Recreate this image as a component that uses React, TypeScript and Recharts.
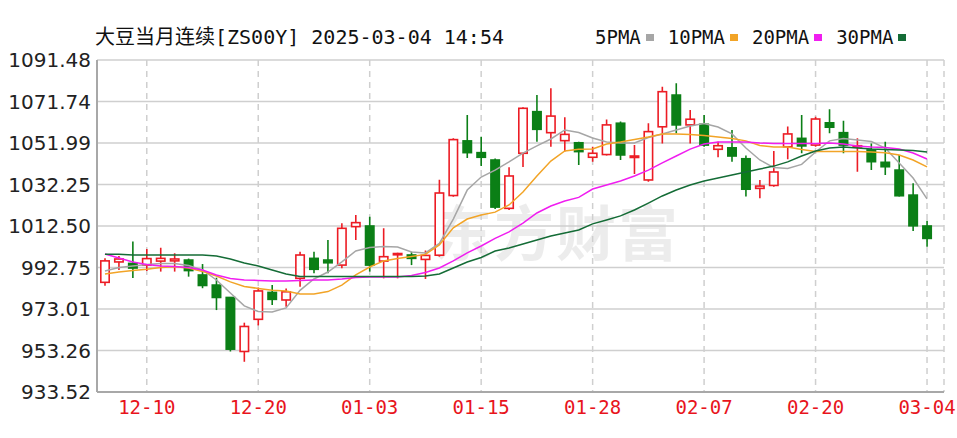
import React from 'react'
import { ComposedChart, Bar, Line, XAxis, YAxis, CartesianGrid } from 'recharts'

// 大豆当月连续 日K + 均线
const dates = [
  '12-05', '12-06', '12-09', '12-10', '12-11', '12-12', '12-13', '12-16', '12-17', '12-18',
  '12-19', '12-20', '12-23', '12-24', '12-26', '12-27', '12-30', '12-31', '01-02', '01-03',
  '01-06', '01-07', '01-08', '01-09', '01-10', '01-13', '01-14', '01-15', '01-16', '01-17',
  '01-21', '01-22', '01-23', '01-24', '01-27', '01-28', '01-29', '01-30', '01-31', '02-03',
  '02-04', '02-05', '02-06', '02-07', '02-10', '02-11', '02-12', '02-13', '02-14', '02-18',
  '02-19', '02-20', '02-21', '02-24', '02-25', '02-26', '02-27', '02-28', '03-03', '03-04',
]

const opens = [
  985.7, 995.4, 994.7, 993.9, 995.8, 995.9, 996.3, 989.2, 984.4, 978.5,
  952.8, 968.1, 980.9, 977.3, 987.6, 997.1, 996.3, 993.9, 1012.2, 1012.5,
  995.8, 998.8, 998.7, 996.6, 998.6, 1027.0, 1053.0, 1047.4, 1043.9, 1020.9,
  1047.1, 1066.9, 1056.9, 1053.1, 1052.1, 1045.2, 1046.5, 1061.4, 1045.1, 1034.4,
  1059.7, 1074.8, 1060.6, 1060.9, 1049.0, 1049.7, 1044.5, 1030.4, 1031.8, 1050.2,
  1054.2, 1051.0, 1061.6, 1056.9, 1050.1, 1048.7, 1042.8, 1039.1, 1027.2, 1012.5,
]
const highs = [
  997.1, 998.2, 1005.1, 1001.5, 1002.2, 999.5, 997.0, 994.4, 987.9, 978.6,
  966.5, 983.2, 984.4, 982.8, 1000.3, 1000.3, 1005.8, 1013.8, 1017.7, 1016.9,
  1011.4, 999.8, 1000.3, 1000.8, 1034.5, 1054.2, 1065.3, 1055.0, 1044.6, 1040.4,
  1069.0, 1074.8, 1078.0, 1064.2, 1052.6, 1050.2, 1063.2, 1062.2, 1051.0, 1061.4,
  1078.8, 1080.4, 1067.7, 1065.3, 1052.6, 1058.2, 1046.0, 1034.4, 1048.2, 1059.8,
  1065.3, 1064.5, 1068.0, 1062.6, 1054.2, 1051.8, 1052.6, 1046.3, 1032.8, 1015.0,
]
const lows = [
  984.1, 991.6, 987.7, 991.1, 990.8, 990.8, 988.4, 982.9, 972.5, 952.8,
  947.9, 965.2, 974.9, 974.1, 983.6, 990.0, 990.0, 992.4, 1005.8, 990.8,
  987.6, 987.6, 993.9, 987.3, 997.9, 1026.4, 1044.8, 1041.0, 1020.6, 1020.1,
  1040.6, 1052.6, 1050.2, 1047.9, 1041.5, 1043.1, 1046.0, 1043.9, 1037.2, 1033.6,
  1051.8, 1056.6, 1051.8, 1050.2, 1045.2, 1043.1, 1026.5, 1025.7, 1031.2, 1044.2,
  1047.1, 1050.2, 1056.6, 1047.1, 1038.3, 1039.1, 1036.8, 1026.5, 1010.1, 1002.6,
]
const closes = [
  995.9, 996.8, 992.5, 997.0, 997.1, 996.8, 991.3, 984.2, 978.5, 953.9,
  964.7, 981.6, 977.6, 981.2, 998.7, 991.9, 995.0, 1011.4, 1014.1, 993.9,
  997.9, 999.4, 997.1, 998.5, 1028.2, 1053.6, 1047.4, 1045.2, 1021.5, 1036.3,
  1068.5, 1058.5, 1064.8, 1056.1, 1047.9, 1047.1, 1060.6, 1046.3, 1045.8, 1057.4,
  1076.4, 1060.6, 1063.3, 1051.0, 1050.7, 1045.8, 1030.0, 1031.5, 1038.2, 1056.3,
  1050.6, 1063.4, 1059.5, 1051.0, 1050.7, 1043.1, 1040.7, 1026.9, 1012.6, 1006.6,
]

const ma5 = [
  991.1, 992.8, 993.5, 994.2, 994.7, 994.7, 993.7, 991.6, 986.8, 980.6,
  974.5, 971.8, 971.6, 973.5, 981.9, 987.3, 990.6, 995.4, 1000.6, 1002.3,
  1002.7, 1002.5, 1000.1, 999.7, 1004.2, 1015.8, 1029.6, 1035.8, 1039.1, 1043.0,
  1047.2, 1050.6, 1053.9, 1058.2, 1057.0, 1054.4, 1052.5, 1052.0, 1052.0, 1054.6,
  1056.3, 1058.2, 1060.1, 1061.3, 1059.6, 1056.3, 1049.6, 1043.9, 1040.3, 1039.9,
  1041.8, 1047.7, 1053.0, 1054.1, 1053.4, 1052.7, 1049.6, 1042.5, 1035.3, 1025.4,
]
const ma10 = [
  989.7, 990.6, 991.3, 991.9, 992.8, 993.1, 992.5, 990.9, 988.7, 985.9,
  983.7, 982.8, 981.9, 981.6, 980.2, 980.2, 981.3, 984.4, 989.2, 993.0,
  995.9, 997.0, 998.0, 999.0, 1003.5, 1011.6, 1015.8, 1017.7, 1019.1, 1022.5,
  1028.7, 1036.3, 1043.4, 1048.2, 1049.0, 1049.1, 1051.5, 1052.5, 1053.7, 1054.8,
  1056.3, 1056.3, 1056.0, 1055.6, 1054.8, 1054.1, 1053.0, 1050.8, 1050.1, 1050.1,
  1048.9, 1048.0, 1047.9, 1047.9, 1047.9, 1047.7, 1047.4, 1046.3, 1043.9, 1040.6,
]
const ma20 = [
  999.2, 997.3, 995.4, 994.2, 993.5, 993.2, 992.8, 991.6, 989.2, 987.5,
  986.8, 986.6, 986.3, 986.3, 986.6, 986.8, 986.8, 987.3, 988.0, 988.2,
  988.2, 988.2, 989.0, 990.4, 992.5, 995.9, 999.7, 1003.0, 1006.6, 1009.7,
  1013.9, 1018.7, 1022.0, 1024.4, 1026.1, 1030.1, 1032.0, 1033.9, 1036.3, 1039.1,
  1042.5, 1045.8, 1049.1, 1051.5, 1052.5, 1052.5, 1052.5, 1052.0, 1051.7, 1051.7,
  1051.7, 1051.7, 1052.0, 1051.5, 1050.6, 1050.1, 1049.9, 1049.1, 1047.2, 1044.4,
]
const ma30 = [
  999.0, 999.0, 998.7, 998.7, 998.7, 998.7, 998.7, 998.7, 998.2, 996.8,
  994.9, 993.5, 991.6, 989.7, 988.5, 988.5, 988.5, 988.5, 988.5, 988.5,
  988.5, 988.5, 988.5, 988.7, 989.7, 992.5, 995.4, 997.5, 1000.6, 1002.0,
  1003.9, 1005.8, 1007.7, 1009.2, 1010.6, 1013.5, 1015.4, 1017.3, 1020.1, 1023.4,
  1026.8, 1029.6, 1032.0, 1033.9, 1035.3, 1036.8, 1038.2, 1039.6, 1041.0, 1043.0,
  1045.8, 1048.2, 1049.6, 1050.1, 1049.6, 1049.1, 1048.9, 1048.7, 1048.4, 1047.7,
]

const yTicks = [933.52, 953.26, 973.01, 992.75, 1012.5, 1032.25, 1051.99, 1071.74, 1091.48]
const xTicks = ['12-10', '12-20', '01-03', '01-15', '01-28', '02-07', '02-20', '03-04']

const maLines = [
  { key: 'ma5', name: '5PMA', color: '#a6a6a6' },
  { key: 'ma10', name: '10PMA', color: '#f2a427' },
  { key: 'ma20', name: '20PMA', color: '#f01ef0' },
  { key: 'ma30', name: '30PMA', color: '#146c36' },
]

const data = dates.map((date, i) => ({
  date,
  open: opens[i],
  high: highs[i],
  low: lows[i],
  close: closes[i],
  ma5: ma5[i],
  ma10: ma10[i],
  ma20: ma20[i],
  ma30: ma30[i],
}))

const UP = '#ec1c24'
const DOWN = '#0b7f16'
const MONO = "'DejaVu Sans Mono', 'Noto Sans CJK SC', monospace"

// 蜡烛图：Bar 给出 high-low 的范围，开收盘按比例换算
function Candle(props: any) {
  const { x, y, width, height, payload } = props
  if (!payload) return null
  const { open, close, high, low } = payload
  const top = Math.min(y, y + height)
  const h = Math.abs(height)
  const span = high - low || 1
  const py = (v: number) => top + ((high - v) / span) * h
  const up = close >= open
  const color = up ? UP : DOWN
  const cx = x + width / 2
  const bTop = py(Math.max(open, close))
  const bBot = py(Math.min(open, close))
  return (
    <g>
      <line x1={cx} x2={cx} y1={top} y2={top + h} stroke={color} strokeWidth={1.6} />
      <rect
        x={x + 0.8}
        y={bTop}
        width={width - 1.6}
        height={Math.max(bBot - bTop, 1.2)}
        fill={up ? '#fff' : color}
        stroke={color}
        strokeWidth={1.6}
      />
    </g>
  )
}

export default function App() {
  return (
    <div style={{ position: 'absolute', left: 0, top: 0, width: 957, height: 438, background: '#fff' }}>
      {/* 水印 */}
      <div
        style={{
          position: 'absolute', left: 432, top: 186, fontSize: 60, fontWeight: 700,
          fontFamily: "'Noto Sans CJK SC'", color: '#000', opacity: 0.07, letterSpacing: 2,
        }}
      >
        东方财富
      </div>
      <div
        style={{
          position: 'absolute', left: 95, top: 25, fontSize: 20, lineHeight: '24px',
          fontFamily: MONO, color: '#111', whiteSpace: 'pre',
        }}
      >
        大豆当月连续[ZS00Y] 2025-03-04 14:54
      </div>
      <div
        style={{
          position: 'absolute', left: 595, top: 25, display: 'flex', fontSize: 19,
          lineHeight: '24px', fontFamily: MONO, color: '#111',
        }}
      >
        {maLines.map((m) => (
          <div key={m.key} style={{ display: 'flex', alignItems: 'center', marginRight: 14 }}>
            <span>{m.name}</span>
            <span style={{ width: 8, height: 7, background: m.color, marginLeft: 5 }} />
          </div>
        ))}
      </div>
      <ComposedChart
        width={957}
        height={438}
        data={data}
        margin={{ top: 60, right: 13, bottom: 16, left: 0 }}
        style={{ position: 'absolute', left: 0, top: 0 }}
      >
        <CartesianGrid vertical={false} stroke="#cfcfcf" strokeWidth={1.5} />
        <CartesianGrid horizontal={false} stroke="#cfcfcf" strokeWidth={1.5} strokeDasharray="6 5" />
        <XAxis
          dataKey="date"
          ticks={xTicks}
          interval={0}
          padding={{ left: 1, right: 10 }}
          height={30}
          tickLine={false}
          tickSize={6}
          tickMargin={3}
          axisLine={{ stroke: '#a8a8a8', strokeWidth: 2 }}
          tick={{ fill: '#e8141c', fontSize: 19, fontFamily: MONO }}
        />
        <XAxis
          xAxisId="top"
          dataKey="date"
          orientation="top"
          height={0}
          tick={false}
          tickLine={false}
          axisLine={{ stroke: '#a8a8a8', strokeWidth: 2 }}
        />
        <YAxis
          domain={[933.52, 1091.48]}
          ticks={yTicks}
          allowDataOverflow
          width={97}
          tickLine={false}
          tickSize={6}
          tickMargin={0}
          tickFormatter={(v: number) => v.toFixed(2)}
          axisLine={{ stroke: '#a8a8a8', strokeWidth: 2 }}
          tick={{ fill: '#222', fontSize: 20, fontFamily: "'DejaVu Sans'" }}
        />
        <YAxis
          yAxisId="right"
          orientation="right"
          domain={[933.52, 1091.48]}
          width={0}
          tick={false}
          tickLine={false}
          axisLine={{ stroke: '#a8a8a8', strokeWidth: 2 }}
        />
        {maLines.map((m) => (
          <Line
            key={m.key}
            dataKey={m.key}
            type="linear"
            stroke={m.color}
            strokeWidth={1.5}
            dot={false}
            isAnimationActive={false}
          />
        ))}
        <Bar
          dataKey={(d: any) => [d.low, d.high]}
          barSize={10}
          shape={(p: any) => <Candle {...p} />}
          isAnimationActive={false}
        />
      </ComposedChart>
    </div>
  )
}
